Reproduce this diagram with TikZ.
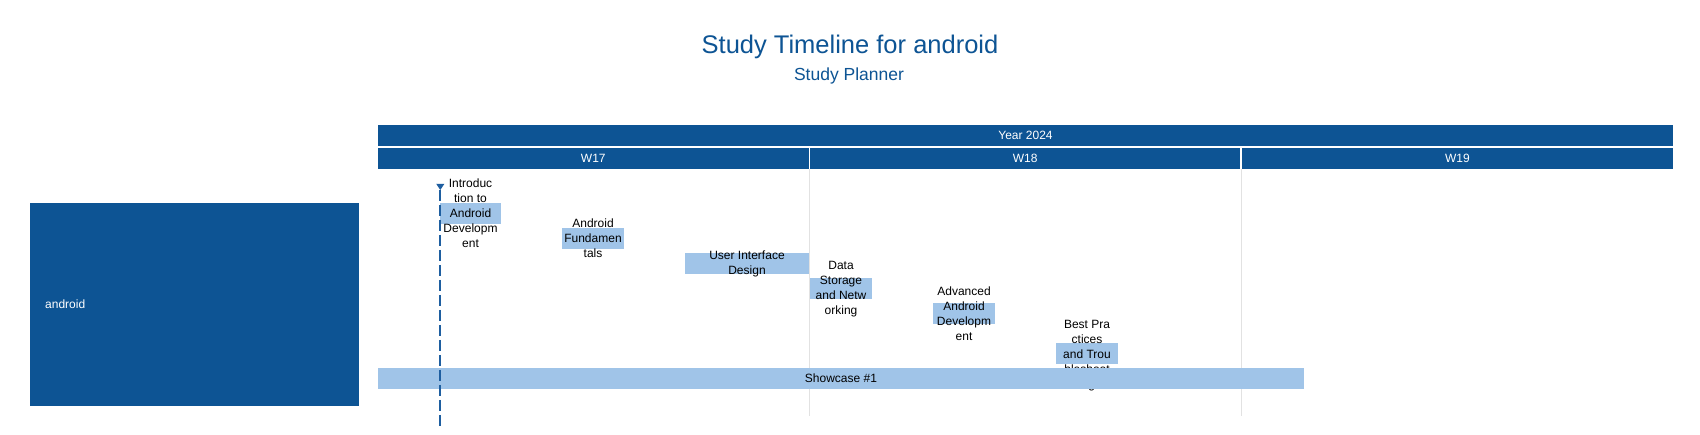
\documentclass[tikz,border=0pt]{standalone}
\usepackage{fontspec}
\setmainfont{Liberation Sans}
\definecolor{darkblue}{RGB}{13,84,148}
\definecolor{barblue}{RGB}{160,196,232}
\definecolor{gridgray}{RGB}{226,226,226}
\definecolor{markblue}{RGB}{30,94,160}
\begin{document}
\begin{tikzpicture}[x=1pt,y=-1pt,
  bar/.style={fill=barblue, draw=none, inner sep=0pt, minimum height=21pt},
  hdr/.style={fill=darkblue, draw=none, inner sep=0pt, minimum height=21pt, text=white, font=\fontsize{12}{14}\selectfont},
  tasklabel/.style={align=center, inner sep=0pt, font=\fontsize{12}{15}\selectfont, text=black},
  gridline/.style={draw=gridgray, line width=1pt},
  marker/.style={draw=markblue, line width=2pt, dash pattern=on 11pt off 4pt},
]
\useasboundingbox[fill=white] (0,0) rectangle (1700,435);

% title
\node[anchor=base, inner sep=0pt, text=darkblue, font=\fontsize{25.5}{30}\selectfont] (title) at (850,53.3) {Study Timeline for android};
\node[anchor=base, inner sep=0pt, text=darkblue, font=\fontsize{17.5}{21}\selectfont] (subtitle) at (849,81) {Study Planner};

% grid lines
\draw[gridline] (809.3,169) -- (809.3,416);
\draw[gridline] (1241,169) -- (1241,416);

% header
\node[hdr, minimum width=1295pt] (year) at (1025.5,135.3) {Year 2024};
\node[hdr, minimum width=430.6pt] (w17) at (593.3,158.5) {W17};
\node[hdr, minimum width=430.3pt] (w18) at (1025.15,158.5) {W18};
\node[hdr, minimum width=431.3pt] (w19) at (1457.35,158.5) {W19};

% lane
\node[fill=darkblue, draw=none, inner sep=0pt, minimum width=329pt, minimum height=203pt] (lane) at (194.5,304.5) {};
\node[anchor=west, inner sep=0pt, text=white, font=\fontsize{12}{14}\selectfont] (lanelabel) at (45,304.7) {android};

% task bars
\node[bar, minimum width=61pt] (b1) at (470.5,213.5) {};
\node[bar, minimum width=62pt] (b2) at (593,238.5) {};
\node[bar, minimum width=124pt] (b3) at (747,263.5) {};
\node[bar, minimum width=62pt] (b4) at (841,288.5) {};
\node[bar, minimum width=62pt] (b5) at (964,313.5) {};
\node[bar, minimum width=62pt] (b6) at (1087,353.5) {};

% task labels
\node[tasklabel] (t1) at (b1.center) {Introduc\\tion to\\Android\\Developm\\ent};
\node[tasklabel] (t2) at (b2.center) {Android\\Fundamen\\tals};
\node[tasklabel] (t3) at (b3.center) {User Interface\\Design};
\node[tasklabel, yshift=-1pt] (t4) at (b4.center) {Data\\Storage\\and Netw\\orking};
\node[tasklabel] (t5) at (b5.center) {Advanced\\Android\\Developm\\ent};
\node[tasklabel, yshift=-2.5pt] (t6) at (b6.center) {Best Pra\\ctices\\and Trou\\bleshoot\\ing};

% milestone
\node[bar, minimum width=926pt] (show) at (841,378.5) {};
\node[tasklabel] (showlabel) at (show.center) {Showcase \#1};

% today marker
\coordinate (mtop) at (440,190);
\coordinate (mbot) at (440,426);
\draw[marker] (mtop) -- (mbot);
\fill[markblue] (436.2,183.8) -- (444.4,183.8) -- (440.3,190) -- cycle;
\end{tikzpicture}
\end{document}
